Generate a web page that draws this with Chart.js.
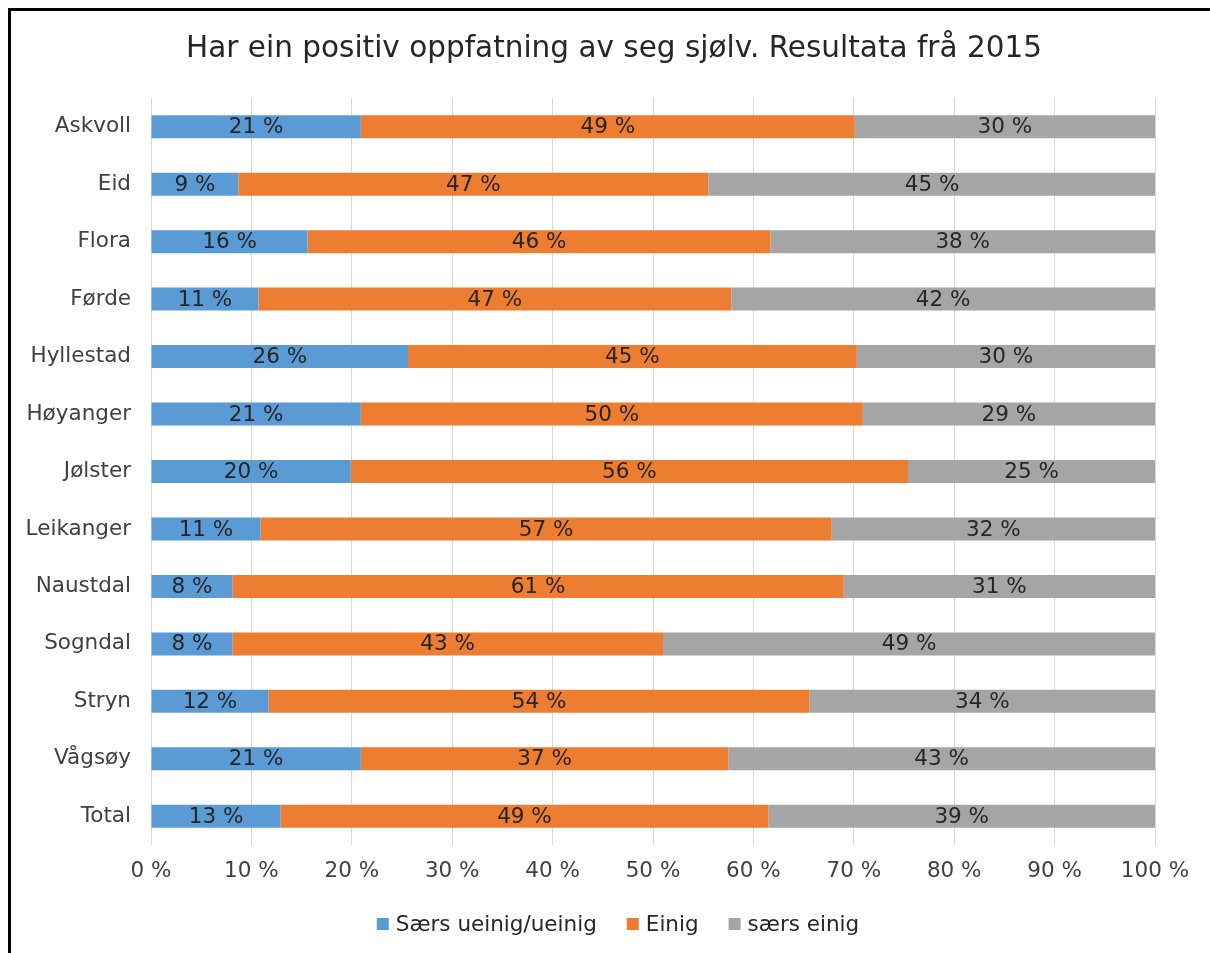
<!DOCTYPE html>
<html>
<head>
<meta charset="utf-8">
<script src="https://cdn.jsdelivr.net/npm/chart.js@4/dist/chart.umd.min.js"></script>
<style>
  html, body { margin: 0; padding: 0; background: #fff; overflow: hidden; }
  #wrap { position: absolute; left: 0; top: 0; width: 1210px; height: 953px; }
  #frame { position: absolute; left: 8px; top: 8px; width: 1300px; height: 1000px;
           border-top: 3px solid #000; border-left: 3px solid #000; pointer-events: none; }
</style>
</head>
<body>
<div id="wrap"><canvas id="c" width="1210" height="953"></canvas></div>
<div id="frame"></div>
<script>
const categories = ["Askvoll", "Eid", "Flora", "Førde", "Hyllestad", "Høyanger", "Jølster",
                    "Leikanger", "Naustdal", "Sogndal", "Stryn", "Vågsøy", "Total"];
const seriesNames = ["Særs ueinig/ueinig", "Einig", "særs einig"];
const uenig   = [20.9, 8.7, 15.6, 10.7, 25.6, 20.9, 19.9, 10.9, 8.1, 8.1, 11.7, 20.9, 12.9];
const einig   = [49.2, 46.8, 46.1, 47.1, 44.7, 50.0, 55.5, 56.9, 60.9, 42.9, 53.9, 36.6, 48.6];
const sersEinig = [29.9, 44.6, 38.3, 42.2, 29.7, 29.1, 24.6, 32.2, 31.0, 49.0, 34.4, 42.5, 38.5];
const xTicks = [0, 10, 20, 30, 40, 50, 60, 70, 80, 90, 100];
const titleText = "Har ein positiv oppfatning av seg sjølv. Resultata frå 2015";

const FONT = "'DejaVu Sans', Verdana, sans-serif";
const FS = 21.5;

const labelPlugin = {
  id: 'barLabels',
  afterDatasetsDraw(chart) {
    const ctx = chart.ctx;
    ctx.save();
    ctx.font = FS + "px " + FONT;
    ctx.fillStyle = "#262626";
    ctx.textAlign = "center";
    ctx.textBaseline = "middle";
    chart.data.datasets.forEach((ds, di) => {
      const meta = chart.getDatasetMeta(di);
      meta.data.forEach((bar, i) => {
        const v = ds.data[i];
        const x = (bar.x + bar.base) / 2;
        ctx.fillText(Math.round(v) + " %", x, bar.y + 1);
      });
    });
    ctx.restore();
  }
};

// Title and legend drawn at the reference's positions
const decorPlugin = {
  id: 'decor',
  afterDraw(chart) {
    const ctx = chart.ctx;
    ctx.save();
    // title
    ctx.font = "29.5px " + FONT;
    ctx.fillStyle = "#262626";
    ctx.textAlign = "center";
    ctx.textBaseline = "middle";
    ctx.fillText(titleText, 614, 49);
    // legend
    ctx.font = FS + "px " + FONT;
    ctx.textAlign = "left";
    const box = 12, gapText = 7, gapItem = 30;
    const widths = seriesNames.map(t => ctx.measureText(t).width);
    const total = widths.reduce((a, w) => a + box + gapText + w, 0) + gapItem * (seriesNames.length - 1);
    let x = 618 - total / 2;
    const cy = 924;
    chart.data.datasets.forEach((ds, i) => {
      ctx.fillStyle = ds.backgroundColor;
      ctx.fillRect(x, cy - box / 2, box, box);
      ctx.fillStyle = "#262626";
      ctx.fillText(seriesNames[i], x + box + gapText, cy + 1);
      x += box + gapText + widths[i] + gapItem;
    });
    ctx.restore();
  }
};

new Chart(document.getElementById('c'), {
  type: 'bar',
  data: {
    labels: categories,
    datasets: [
      { label: seriesNames[0], data: uenig, backgroundColor: '#5B9BD5' },
      { label: seriesNames[1], data: einig, backgroundColor: '#ED7D31' },
      { label: seriesNames[2], data: sersEinig, backgroundColor: '#A5A5A5' }
    ]
  },
  options: {
    indexAxis: 'y',
    responsive: false,
    animation: false,
    devicePixelRatio: 1,
    layout: { padding: { left: 12, right: 55, top: 98, bottom: 68 } },
    datasets: { bar: { barPercentage: 0.4, categoryPercentage: 1.0 } },
    scales: {
      x: {
        stacked: true,
        min: 0, max: 100,
        afterBuildTicks(scale) { scale.ticks = xTicks.map(v => ({ value: v })); },
        afterFit(scale) { scale.height = 40; },
        grid: { color: '#d9d9d9', lineWidth: 1, drawTicks: false },
        border: { display: false },
        ticks: {
          padding: 14,
          color: '#404040',
          font: { family: FONT, size: FS },
          callback: v => v + " %"
        }
      },
      y: {
        stacked: true,
        grid: { display: false },
        border: { display: false },
        afterFit(scale) { scale.width = 139; },
        ticks: {
          padding: 12,
          color: '#404040',
          font: { family: FONT, size: FS }
        }
      }
    },
    plugins: {
      title: { display: false },
      legend: { display: false },
      tooltip: { enabled: false }
    }
  },
  plugins: [labelPlugin, decorPlugin]
});
</script>
</body>
</html>
